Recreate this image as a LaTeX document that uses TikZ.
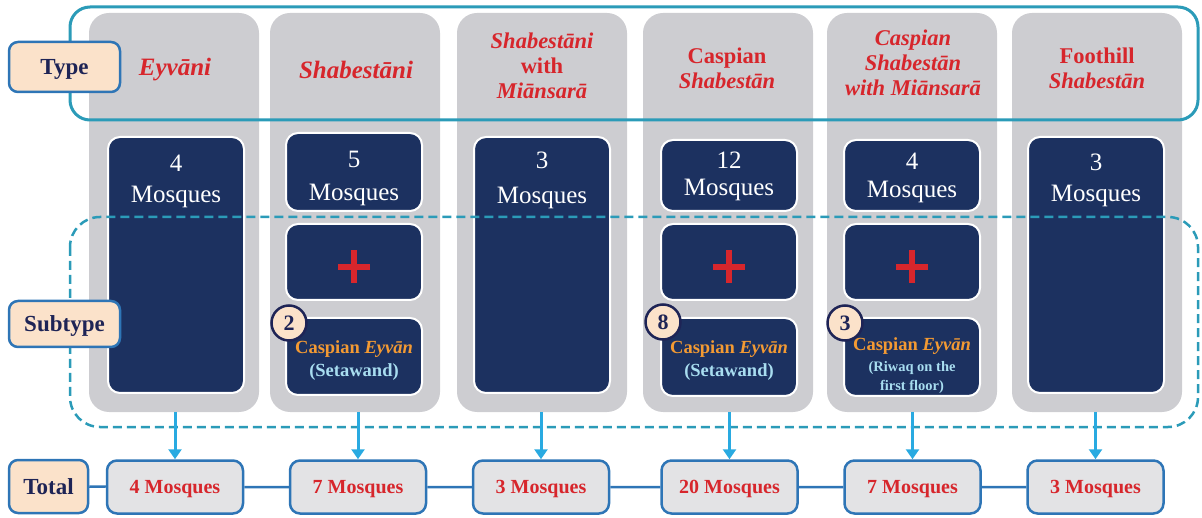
\documentclass[tikz,border=0pt]{standalone}
\usepackage{fontspec}
\setmainfont{Liberation Serif}
\usepackage{tikz}
\usetikzlibrary{shapes,arrows.meta,positioning}
\definecolor{colgray}{RGB}{205,205,209}
\definecolor{navybox}{RGB}{28,49,96}
\definecolor{framecol}{RGB}{43,155,184}
\definecolor{tagfill}{RGB}{251,226,202}
\definecolor{tagline}{RGB}{46,117,182}
\definecolor{tagtext}{RGB}{30,36,86}
\definecolor{typered}{RGB}{215,38,44}
\definecolor{eyvanorange}{RGB}{243,154,51}
\definecolor{setblue}{RGB}{168,221,240}
\definecolor{arrowblue}{RGB}{41,170,225}
\definecolor{totalfill}{RGB}{227,227,229}
\newcommand{\mosq}[1]{#1\\Mosques}
\tikzstyle{column} = [fill=colgray, rounded corners=20pt, minimum width=170pt, minimum height=399pt, inner sep=0pt]
\tikzstyle{typetext} = [text=typered, font=\bfseries\fontsize{22.5}{25}\selectfont, align=center, inner sep=0pt]
\tikzstyle{darkbox} = [fill=navybox, draw=white, line width=2pt, rounded corners=12pt, minimum width=136pt, inner sep=0pt]
\tikzstyle{mosqtext} = [text=white, font=\fontsize{25}{31}\selectfont, align=center, inner sep=0pt]
\tikzstyle{subtext} = [text=setblue, font=\bfseries\fontsize{18.5}{23}\selectfont, align=center]
\tikzstyle{plus} = [draw=typered, line width=6pt]
\tikzstyle{tag} = [fill=tagfill, draw=tagline, line width=2.5pt, rounded corners=9pt, text=tagtext, font=\bfseries\fontsize{23}{26}\selectfont, text depth=0pt, minimum height=50pt]
\tikzstyle{badge} = [circle, fill=tagfill, draw=tagtext, line width=2.5pt, minimum size=35pt, inner sep=0pt, text=tagtext, font=\bfseries\fontsize{22}{24}\selectfont]
\tikzstyle{totalbox} = [fill=totalfill, draw=tagline, line width=2.5pt, rounded corners=10pt, minimum width=136pt, minimum height=53pt, text=typered, font=\bfseries\fontsize{20}{22}\selectfont, text depth=0pt]
\tikzstyle{link} = [draw=tagline, line width=2.5pt]
\tikzstyle{flow} = [draw=arrowblue, line width=3pt, -{Triangle[length=10pt,width=13pt]}]

\begin{document}
\begin{tikzpicture}[x=1pt,y=-1pt]
\useasboundingbox (0,0) rectangle (1202,518);
% gray columns
\node[column] (c1) at (174,212.5) {};
\node[column] (c2) at (355,212.5) {};
\node[column] (c3) at (542,212.5) {};
\node[column] (c4) at (728,212.5) {};
\node[column] (c5) at (912,212.5) {};
\node[column] (c6) at (1097,212.5) {};
% type names
\node[typetext, font=\bfseries\itshape\fontsize{25}{27}\selectfont] (n1) at (175,70) {Eyvāni};
\node[typetext, font=\bfseries\itshape\fontsize{25}{27}\selectfont] (n2) at (356,70) {Shabestāni};
\node[typetext] (n3) at (542,66) {\textit{Shabestāni}\\with\\\textit{Miānsarā}};
\node[typetext] (n4) at (727,68) {Caspian\\\textit{Shabestān}};
\node[typetext] (n5) at (913,63) {\textit{Caspian}\\\textit{Shabestān}\\\textit{with Miānsarā}};
\node[typetext] (n6) at (1097,68) {Foothill\\\textit{Shabestān}};
% dark boxes
\node[darkbox, minimum height=256pt] (d1) at (176,265) {};
\node[mosqtext, below=19pt of d1.north] (m1) {\mosq{4}};
\node[darkbox, minimum height=78pt] (d2) at (354,172) {};
\node[mosqtext, font=\fontsize{25}{33}\selectfont] (m2) at (354,178) {\mosq{5}};
\node[darkbox, minimum height=76pt] (p2) at (354,262) {};
\node[darkbox, minimum height=77pt] (s2) at (354,356.5) {};
\node[subtext] (e2) at (354,361) {\textcolor{eyvanorange}{Caspian \textit{Eyvān}}\\(Setawand)};
\node[darkbox, minimum height=256pt] (d3) at (542,265) {};
\node[mosqtext, font=\fontsize{25}{35}\selectfont, below=16pt of d3.north] (m3) {\mosq{3}};
\node[darkbox, minimum height=71pt] (d4) at (729,175.5) {};
\node[mosqtext, font=\fontsize{25}{27}\selectfont] (m4) at (729,176) {\mosq{12}};
\node[darkbox, minimum height=76pt] (p4) at (729,262) {};
\node[darkbox, minimum height=78pt] (s4) at (729,357) {};
\node[subtext] (e4) at (729,361) {\textcolor{eyvanorange}{Caspian \textit{Eyvān}}\\(Setawand)};
\node[darkbox, minimum height=71pt] (d5) at (912,175.5) {};
\node[mosqtext, font=\fontsize{25}{28}\selectfont] (m5) at (912,178) {\mosq{4}};
\node[darkbox, minimum height=76pt] (p5) at (912,262) {};
\node[darkbox, minimum height=78pt] (s5) at (912,357) {};
\node[subtext] (e5) at (912,366) {\textcolor{eyvanorange}{Caspian \textit{Eyvān}}\\[-2pt]{\fontsize{14.5}{18}\selectfont(Riwaq on the}\\[-4pt]{\fontsize{14.5}{18}\selectfont first floor)}};
\node[darkbox, minimum height=256pt] (d6) at (1096,265) {};
\node[mosqtext, below=18pt of d6.north] (m6) {\mosq{3}};
% plus signs
\foreach \p in {p2,p4,p5} {
  \draw[plus] ([xshift=-16pt,yshift=-5pt]\p.center) -- ([xshift=16pt,yshift=-5pt]\p.center);
  \draw[plus] ([yshift=12pt]\p.center) -- ([yshift=-21pt]\p.center);
}
% frames
\draw[draw=framecol, line width=3pt, rounded corners=20pt] (70,7) rectangle (1198,120);
\draw[draw=framecol, line width=2.5pt, dash pattern=on 9pt off 5pt, rounded corners=30pt] (70,217) rectangle (1198,427);
% row tags
\node[tag, minimum width=111pt] (ty) at (64.5,67) {Type};
\node[tag, minimum width=111pt, minimum height=46pt] (su) at (64.5,324) {Subtype};
\node[tag, minimum width=79pt, minimum height=53pt] (to) at (48.5,486.5) {Total};
% badges
\node[badge] (b2) at (289,323) {2};
\node[badge] (b4) at (663,322) {8};
\node[badge] (b5) at (845,323) {3};
% totals
\node[totalbox] (t1) at (175,487) {4 Mosques};
\node[totalbox] (t2) at (358,487) {7 Mosques};
\node[totalbox] (t3) at (541,487) {3 Mosques};
\node[totalbox] (t4) at (729.5,487) {20 Mosques};
\node[totalbox] (t5) at (912.5,487) {7 Mosques};
\node[totalbox] (t6) at (1095.5,487) {3 Mosques};
\draw[link] (to) -- (t1) -- (t2) -- (t3) -- (t4) -- (t5) -- (t6);
% arrows down
\foreach \i in {1,...,6}
  \draw[flow] (c\i.south -| t\i.north) -- (t\i.north);
\end{tikzpicture}
\end{document}
